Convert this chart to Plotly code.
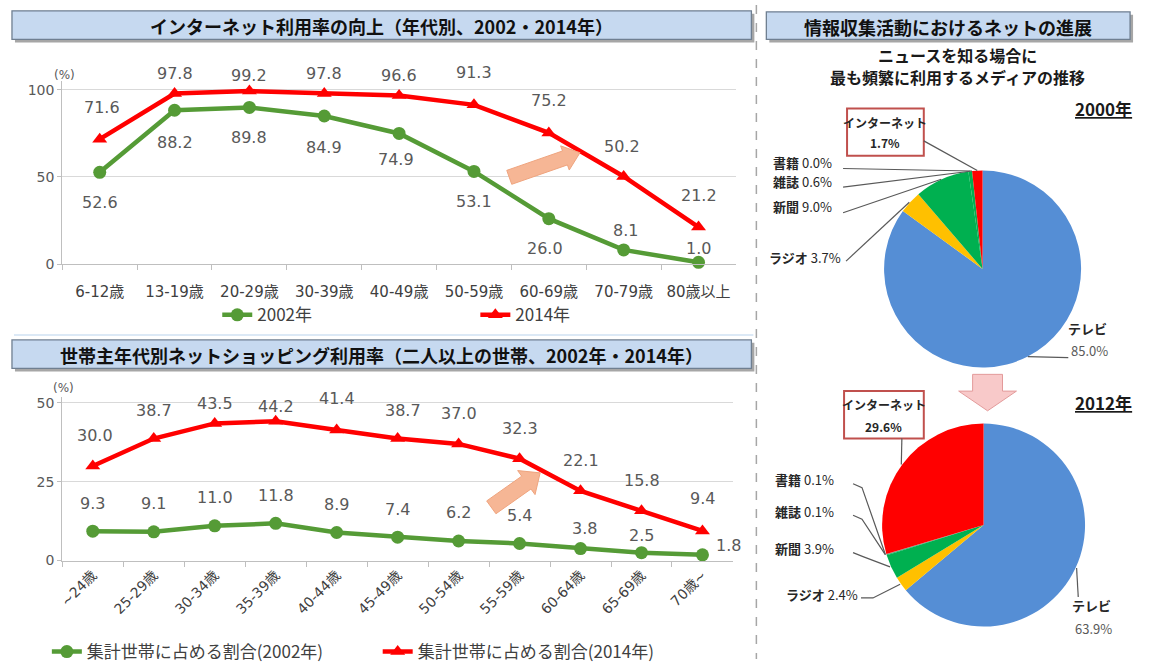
"""Internet usage by age group, net shopping by household head age, and news media pies."""

import math

import plotly.graph_objects as go

W, H = 1150, 670

# ---- data -------------------------------------------------------------
ages_net = ["6-12歳", "13-19歳", "20-29歳", "30-39歳", "40-49歳",
            "50-59歳", "60-69歳", "70-79歳", "80歳以上"]
net_2002 = [52.6, 88.2, 89.8, 84.9, 74.9, 53.1, 26.0, 8.1, 1.0]
net_2014 = [71.6, 97.8, 99.2, 97.8, 96.6, 91.3, 75.2, 50.2, 21.2]

ages_shop = ["~24歳", "25-29歳", "30-34歳", "35-39歳", "40-44歳", "45-49歳",
             "50-54歳", "55-59歳", "60-64歳", "65-69歳", "70歳~"]
shop_2002 = [9.3, 9.1, 11.0, 11.8, 8.9, 7.4, 6.2, 5.4, 3.8, 2.5, 1.8]
shop_2014 = [30.0, 38.7, 43.5, 44.2, 41.4, 38.7, 37.0, 32.3, 22.1, 15.8, 9.4]

media = ["テレビ", "ラジオ", "新聞", "雑誌", "書籍", "インターネット"]
share_2000 = [85.0, 3.7, 9.0, 0.6, 0.0, 1.7]
share_2012 = [63.9, 2.4, 3.9, 0.1, 0.1, 29.6]

# ---- style ------------------------------------------------------------
GREEN = "#559B36"
RED = "#FF0000"
LBL = "#595959"
NUM_FONT = "DejaVu Sans, Noto Sans CJK JP"
JP_FONT = "Noto Sans CJK JP, DejaVu Sans"
PIE_COLORS = ["#558ED5", "#FFC000", "#00B050", "#00B050", "#7F7F7F", "#FF0000"]

# label offsets (dx, dy) in pixels for each point
off_net_2002 = [(0, 30), (0, 32), (0, 30), (0, 31), (-3, 26), (0, 30), (-4, 30), (2, -19), (0, -14)]
off_net_2014 = [(2, -32), (0, -20), (0, -16), (0, -20), (0, -20), (0, -32), (0, -32), (-2, -30), (0, -32)]
off_shop_2002 = [(0, -28)] * 8 + [(4, -20), (0, -17), (26, -9)]
off_shop_2014 = [(2, -30), (0, -28), (0, -20), (0, -15), (0, -32), (5, -28),
                 (0, -30), (0, -30), (0, -30), (0, -30), (0, -32)]


def px(x):
    return x / W


def py(y):
    return 1 - y / H


fig = go.Figure()

# ---- line charts ------------------------------------------------------
fig.add_trace(go.Scatter(
    x=ages_net, y=net_2002, name="2002年", mode="lines+markers",
    line=dict(color=GREEN, width=4.5), marker=dict(symbol="circle", size=13, color=GREEN),
    xaxis="x", yaxis="y", legend="legend", cliponaxis=False,
))
fig.add_trace(go.Scatter(
    x=ages_net, y=net_2014, name="2014年", mode="lines+markers",
    line=dict(color=RED, width=4.5), marker=dict(symbol="triangle-up", size=13, color=RED),
    xaxis="x", yaxis="y", legend="legend2", cliponaxis=False,
))
fig.add_trace(go.Scatter(
    x=ages_shop, y=shop_2002, name="集計世帯に占める割合(2002年)", mode="lines+markers",
    line=dict(color=GREEN, width=4.5), marker=dict(symbol="circle", size=13, color=GREEN),
    xaxis="x2", yaxis="y2", legend="legend3", cliponaxis=False,
))
fig.add_trace(go.Scatter(
    x=ages_shop, y=shop_2014, name="集計世帯に占める割合(2014年)", mode="lines+markers",
    line=dict(color=RED, width=4.5), marker=dict(symbol="triangle-up", size=13, color=RED),
    xaxis="x2", yaxis="y2", legend="legend4", cliponaxis=False,
))

annotations = []


def point_labels(cats, vals, offs, xref, yref):
    for c, v, (dx, dy) in zip(cats, vals, offs):
        annotations.append(dict(
            x=c, y=v, xref=xref, yref=yref, text=f"{v:.1f}", showarrow=False,
            xshift=dx, yshift=-dy, font=dict(family=NUM_FONT, size=16, color=LBL),
        ))


point_labels(ages_net, net_2002, off_net_2002, "x", "y")
point_labels(ages_net, net_2014, off_net_2014, "x", "y")
point_labels(ages_shop, shop_2002, off_shop_2002, "x2", "y2")
point_labels(ages_shop, shop_2014, off_shop_2014, "x2", "y2")

# ---- pies ---------------------------------------------------------------
PIES = [
    dict(vals=share_2000, cx=982, cy=271, r=100),
    dict(vals=share_2012, cx=983, cy=531, r=103),
]
for p in PIES:
    fig.add_trace(go.Pie(
        labels=media, values=p["vals"], sort=False, direction="clockwise", rotation=0,
        marker=dict(colors=PIE_COLORS, line=dict(width=0)), textinfo="none",
        showlegend=False, hoverinfo="label+percent",
        domain=dict(x=[px(p["cx"] - p["r"]), px(p["cx"] + p["r"])],
                    y=[py(p["cy"] + p["r"]), py(p["cy"] - p["r"])]),
    ))


def edge_points(p):
    """Pixel point on the rim at the middle of each slice."""
    total = sum(p["vals"])
    pts, acc = [], 0.0
    for v in p["vals"]:
        a = math.radians((acc + v / 2) / total * 360)
        pts.append((p["cx"] + p["r"] * math.sin(a), p["cy"] - p["r"] * math.cos(a)))
        acc += v
    return pts


shapes = []


def poly(points, **kw):
    path = "M " + " L ".join(f"{px(x):.5f},{py(y):.5f}" for x, y in points)
    if kw.pop("closed", False):
        path += " Z"
    shapes.append(dict(type="path", path=path, xref="paper", yref="paper", **kw))


def rect(x0, y0, x1, y1, **kw):
    shapes.append(dict(type="rect", xref="paper", yref="paper",
                       x0=px(x0), x1=px(x1), y0=py(y1), y1=py(y0), **kw))


def text(x, y, s, size=13, color="#262626", family=JP_FONT, xanchor="center", **kw):
    annotations.append(dict(x=px(x), y=py(y), xref="paper", yref="paper", text=s,
                            showarrow=False, xanchor=xanchor, yanchor="middle",
                            font=dict(family=family, size=size, color=color), **kw))


LEAD = dict(line=dict(color="#595959", width=1.2))

# pie 2000 labels + leader lines
e1 = edge_points(PIES[0])
names1 = [f"<b>{m}</b> {v:.1f}%" for m, v in zip(media, share_2000)]
text(770, 163, names1[4], xanchor="left")
text(770, 182, names1[3], xanchor="left")
text(770, 208, names1[2], xanchor="left")
text(766, 259, names1[1], xanchor="left")
text(1087, 331, "<b>テレビ</b>", color="#262626")
text(1089, 354, f"{share_2000[0]:.1f}%", color=LBL)
poly([(842, 169), e1[4]], **LEAD)
poly([(842, 188), e1[3]], **LEAD)
poly([(842, 214), e1[2]], **LEAD)
poly([(845, 263), e1[1]], **LEAD)
poly([e1[0], (1068, 361)], **LEAD)
rect(846, 108, 923, 156, line=dict(color="#C0504D", width=2), fillcolor="white")
text(884, 122, "<b>インターネット</b>", size=12)
text(884, 143, f"<b>{share_2000[5]:.1f}%</b>", size=12)
poly([(923, 141), e1[5]], **LEAD)

# pie 2012 labels + leader lines
e2 = edge_points(PIES[1])
names2 = [f"<b>{m}</b> {v:.1f}%" for m, v in zip(media, share_2012)]
text(772, 485, names2[4], xanchor="left")
text(772, 517, names2[3], xanchor="left")
text(772, 555, names2[2], xanchor="left")
text(783, 601, names2[1], xanchor="left")
text(1091, 613, "<b>テレビ</b>", color="#262626")
text(1093, 636, f"{share_2012[0]:.1f}%", color=LBL)
poly([(852, 489), (861, 493), e2[4]], **LEAD)
poly([(852, 521), (861, 525), e2[3]], **LEAD)
poly([(852, 559), (862, 563), e2[2]], **LEAD)
poly([(860, 605), (872, 605), e2[1]], **LEAD)
poly([e2[0], (1078, 604)], **LEAD)
rect(843, 395, 923, 443, line=dict(color="#C0504D", width=2), fillcolor="white")
text(883, 409, "<b>インターネット</b>", size=12)
text(883, 431, f"<b>{share_2012[5]:.1f}%</b>", size=12)
poly([(901, 443), e2[5]], **LEAD)

text(1103, 108, "<b><u>2000年</u></b>", size=17, color="#1a1a1a")
text(1103, 407, "<b><u>2012年</u></b>", size=17, color="#1a1a1a")
text(957, 54, "<b>ニュースを知る場合に</b>", size=16, color="#1a1a1a")
text(957, 76, "<b>最も頻繁に利用するメディアの推移</b>", size=16, color="#1a1a1a")

# ---- banners ------------------------------------------------------------
BANNERS = [
    (8, 9, 750, 38, "インターネット利用率の向上（年代別、2002・2014年）"),
    (8, 343, 750, 372, "世帯主年代別ネットショッピング利用率（二人以上の世帯、2002年・2014年）"),
    (765, 10, 1130, 38, "情報収集活動におけるネットの進展"),
]
for x0, y0, x1, y1, s in BANNERS:
    rect(x0 + 3, y0 + 3, x1 + 3, y1 + 3, fillcolor="#A6A6A6", line=dict(width=0))
    rect(x0, y0, x1, y1, fillcolor="#C6D9F0", line=dict(color="#6F7F91", width=1.3))
    text((x0 + x1) / 2, (y0 + y1) / 2 + 1, f"<b>{s}</b>", size=18, color="#111111")


# ---- decorations: arrows, separators ------------------------------------
def block_arrow(tail, tip, shaft_w, head_w, head_len, fill, edge):
    dx, dy = tip[0] - tail[0], tip[1] - tail[1]
    n = math.hypot(dx, dy)
    ux, uy = dx / n, dy / n
    nx, ny = -uy, ux
    bx, by = tip[0] - ux * head_len, tip[1] - uy * head_len
    pts = [
        (tail[0] + nx * shaft_w / 2, tail[1] + ny * shaft_w / 2),
        (bx + nx * shaft_w / 2, by + ny * shaft_w / 2),
        (bx + nx * head_w / 2, by + ny * head_w / 2),
        tip,
        (bx - nx * head_w / 2, by - ny * head_w / 2),
        (bx - nx * shaft_w / 2, by - ny * shaft_w / 2),
        (tail[0] - nx * shaft_w / 2, tail[1] - ny * shaft_w / 2),
    ]
    poly(pts, closed=True, fillcolor=fill, line=dict(color=edge, width=1))


block_arrow((507, 178), (578, 153), 15, 26, 16, "#F6B695", "#EFA47E")
block_arrow((489, 513), (538, 478), 16, 30, 17, "#F6B695", "#EFA47E")
block_arrow((987, 378), (987, 415), 30, 58, 20, "#F8C9C9", "#E39A9A")

shapes.append(dict(type="line", xref="paper", yref="paper", x0=px(755), x1=px(755),
                   y0=py(3), y1=py(667), line=dict(color="#A6A6A6", width=1.5, dash="dash")))
shapes.append(dict(type="line", xref="paper", yref="paper", x0=px(10), x1=px(752),
                   y0=py(338), y1=py(338), line=dict(color="#DCE9F6", width=2)))

text(61, 74, "(%)", size=12, color=LBL, family=NUM_FONT)
text(60, 392, "(%)", size=12, color=LBL, family=NUM_FONT)

# ---- layout ---------------------------------------------------------------
xcommon = dict(type="category", showline=True, linecolor="#BFBFBF", linewidth=1.2,
               ticks="outside", tickson="boundaries", ticklen=5, tickcolor="#BFBFBF",
               showgrid=False, zeroline=False, fixedrange=True)
ycommon = dict(showline=True, linecolor="#BFBFBF", linewidth=1.2, ticks="outside",
               ticklen=4, tickcolor="#BFBFBF", showgrid=True, gridcolor="#D9D9D9",
               zeroline=False, fixedrange=True,
               tickfont=dict(family=NUM_FONT, size=14, color=LBL))


def legend_at(x, y):
    return dict(x=px(x), y=py(y), xanchor="left", yanchor="middle", orientation="h",
                bgcolor="rgba(0,0,0,0)", borderwidth=0,
                font=dict(family=JP_FONT, size=17, color="#404040"))


fig.update_layout(
    width=W, height=H, margin=dict(l=0, r=0, t=0, b=0),
    paper_bgcolor="white", plot_bgcolor="white",
    font=dict(family=NUM_FONT, color=LBL),
    xaxis=dict(xcommon, domain=[px(58.5), px(734.5)], range=[-0.5, 8.5], anchor="y",
               ticklabelstandoff=14,
               tickfont=dict(family=NUM_FONT, size=15, color="#404040")),
    yaxis=dict(ycommon, domain=[py(266), py(266 - 105 * 1.77)], range=[0, 105],
               tickvals=[0, 50, 100], anchor="x"),
    xaxis2=dict(xcommon, domain=[px(58.5), px(731.5)], range=[-0.5, 10.5], anchor="y2",
                tickangle=-45,
                tickfont=dict(family=NUM_FONT, size=14, color="#404040")),
    yaxis2=dict(ycommon, domain=[py(567), py(567 - 52 * 3.2)], range=[0, 52],
                tickvals=[0, 25, 50], anchor="x2"),
    legend=legend_at(214, 318),
    legend2=legend_at(473, 318),
    legend3=legend_at(43, 660),
    legend4=legend_at(375, 660),
    shapes=shapes,
    annotations=annotations,
)

fig.write_html("out.html", config={"displayModeBar": False},
               post_script="document.body.style.margin='0';")
